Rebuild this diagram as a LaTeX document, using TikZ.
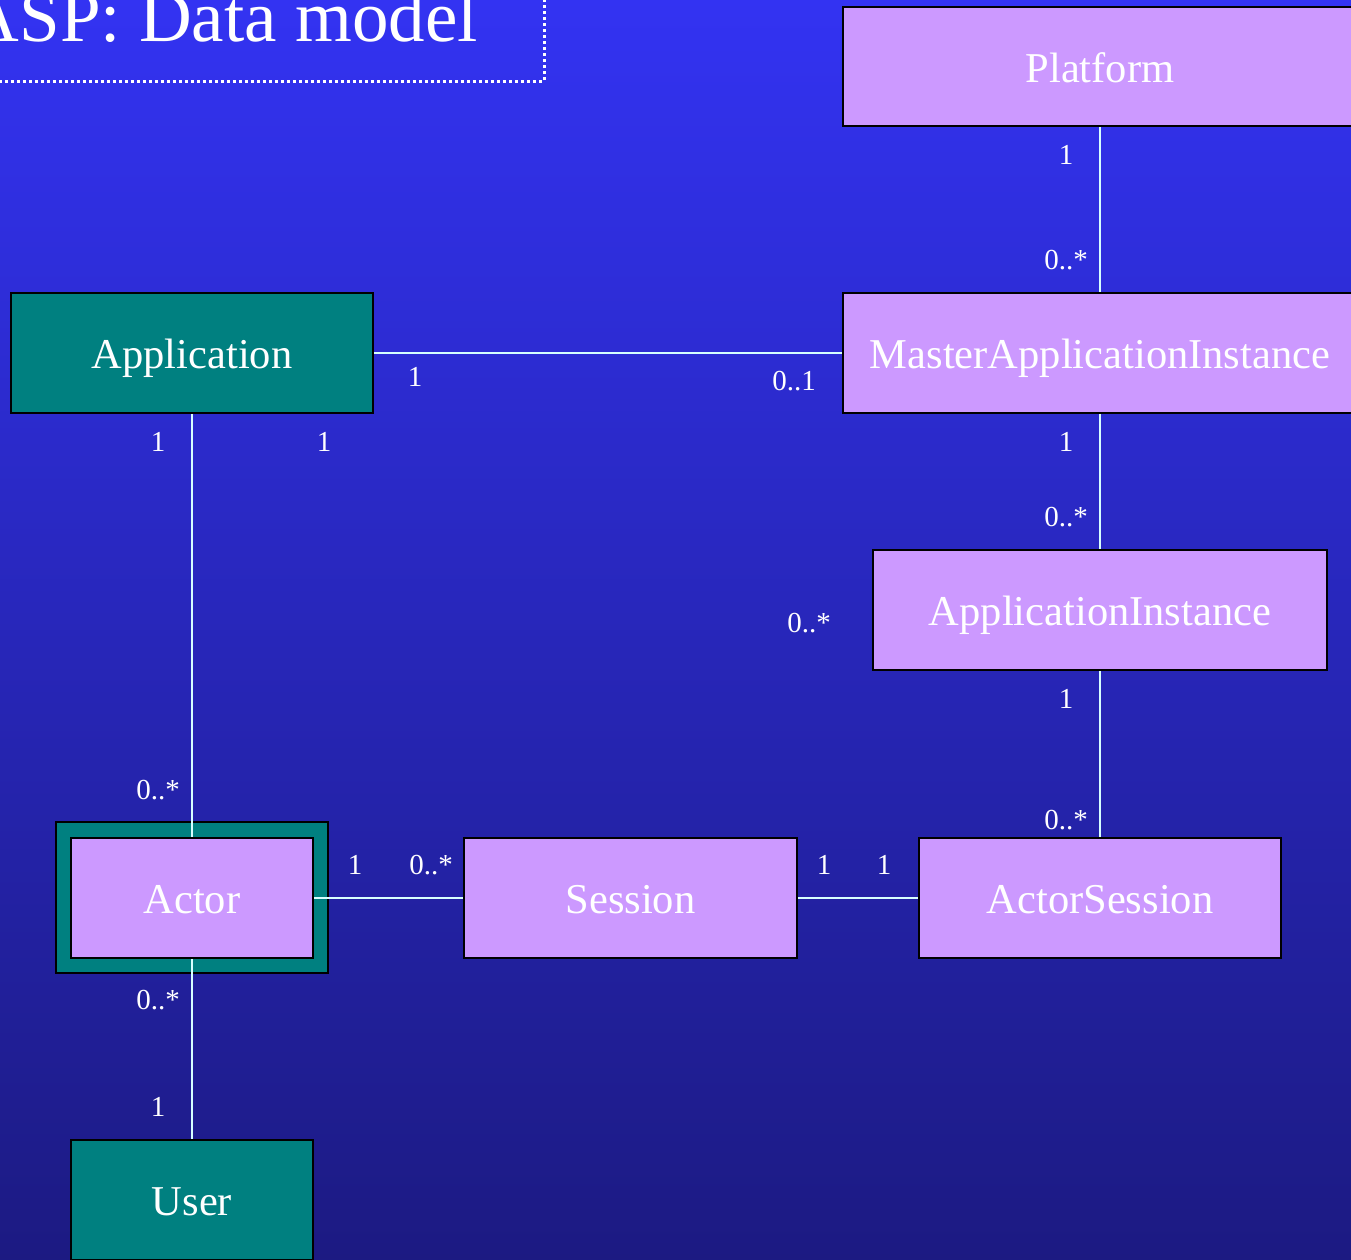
\documentclass[tikz,border=0pt]{standalone}
\usepackage{fontspec}
\setmainfont{Liberation Serif}
\definecolor{bgtop}{RGB}{51,51,242}
\definecolor{bgbot}{RGB}{28,26,130}
\definecolor{lav}{RGB}{204,153,255}
\definecolor{tealbox}{RGB}{0,128,128}
\definecolor{conn}{RGB}{215,255,255}
\begin{document}
\begin{tikzpicture}[x=1pt,y=-1pt,
  cls/.style={draw=black,line width=1.5pt,fill=lav,text=white,
    font=\fontsize{42.5}{48}\selectfont,text height=31pt,text depth=0pt,
    minimum width=#1,minimum height=120pt,inner sep=0pt},
  tcls/.style={cls=#1,fill=tealbox},
  lbl/.style={text=white,font=\fontsize{29}{34}\selectfont,inner sep=0pt},
  link/.style={conn,line width=1.6pt}]
\useasboundingbox (0,0) rectangle (1351,1259);
\clip (0,0) rectangle (1351,1259);
\shade[top color=bgtop,bottom color=bgbot] (0,0) rectangle (1351,1259);
% title
\node[anchor=base east,text=white,font=\fontsize{73}{80}\selectfont,inner sep=0pt] (title) at (478,41) {ASP: Data model};
\draw[white,line width=3pt,dash pattern=on 3pt off 3pt] (-20,-20) rectangle (544,81);
% boxes
\node[tcls=272,minimum height=151pt] (actorouter) at (192,897.5) {};
\node[cls=514,minimum height=119pt] (plat) at (1100,66.5) {Platform};
\node[cls=514] (mai) at (1100,353) {MasterApplicationInstance};
\node[tcls=362] (app) at (192,353) {Application};
\node[cls=454] (ai) at (1100,610) {ApplicationInstance};
\node[cls=362] (as) at (1100,898) {ActorSession};
\node[cls=333] (sess) at (630.5,898) {Session};
\node[cls=242] (actor) at (192,898) {Actor};
\node[tcls=242] (user) at (192,1200) {User};
% connectors
\draw[link] (plat.south) -- (mai.north);
\draw[link] (app.east) -- (mai.west);
\draw[link] (app.south) -- (actor.north);
\draw[link] (mai.south) -- (ai.north);
\draw[link] (ai.south) -- (as.north);
\draw[link] (actor.east) -- (sess.west);
\draw[link] (sess.east) -- (as.west);
\draw[link] (actor.south) -- (user.north);
% multiplicities
\node[lbl] (m1) at (1066,155) {1};
\node[lbl] (m2) at (1066,260) {0..*};
\node[lbl] (m3) at (415,377) {1};
\node[lbl] (m4) at (794,381) {0..1};
\node[lbl] (m5) at (158,442) {1};
\node[lbl] (m6) at (324,442) {1};
\node[lbl] (m7) at (1066,442) {1};
\node[lbl] (m8) at (1066,517) {0..*};
\node[lbl] (m9) at (809,623) {0..*};
\node[lbl] (m10) at (1066,699) {1};
\node[lbl] (m11) at (158,790) {0..*};
\node[lbl] (m12) at (1066,820) {0..*};
\node[lbl] (m13) at (355,865) {1};
\node[lbl] (m14) at (431,865) {0..*};
\node[lbl] (m15) at (824,865) {1};
\node[lbl] (m16) at (884,865) {1};
\node[lbl] (m17) at (158,1000) {0..*};
\node[lbl] (m18) at (158,1107) {1};
\end{tikzpicture}
\end{document}
